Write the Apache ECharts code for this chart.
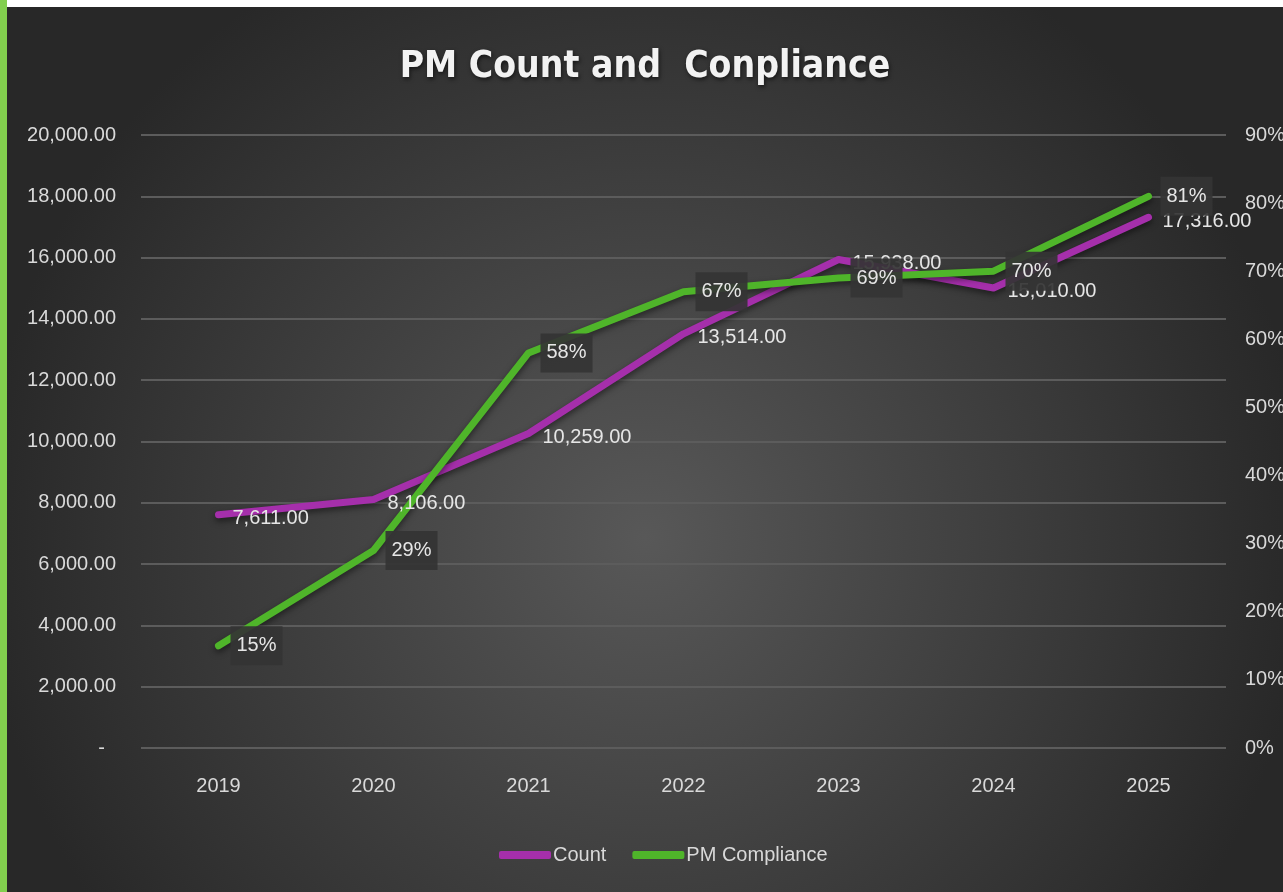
<!DOCTYPE html>
<html lang="en">

<head>
    <meta charset="UTF-8">
    <script type="text/javascript" src="https://cdn.jsdelivr.net/npm/echarts@6/dist/echarts.min.js"></script>
    <title>PM Count and Conpliance</title>
    <style type="text/css">
        body {
            margin: 0;
            background: #fff;
            width: 1283px;
            height: 892px;
            position: relative;
            overflow: hidden;
        }

        #bar {
            position: absolute;
            left: 0;
            top: 0;
            width: 7px;
            height: 892px;
            background: #82cf4e;
        }

        #main {
            position: absolute;
            left: 7px;
            top: 7px;
            width: 1276px;
            height: 885px;
        }
    </style>
</head>

<body>
<div id="bar"></div>
<div id="main"></div>
<script type="text/javascript">
    let years = ['2019', '2020', '2021', '2022', '2023', '2024', '2025'];
    let count = [7611, 8106, 10259, 13514, 15938, 15010, 17316];
    let compliance = [0.15, 0.29, 0.58, 0.67, 0.69, 0.70, 0.81];

    let chart = echarts.init(document.getElementById('main'));
    let font = '"Liberation Sans", Arial, sans-serif';

    function fmt_count(v) {
        if (v === 0) return '-  ';
        return v.toLocaleString('en-US', {minimumFractionDigits: 2, maximumFractionDigits: 2});
    }

    let option = {
        animation: false,
        backgroundColor: {
            type: 'radial',
            x: 0.5,
            y: 0.6,
            r: 0.75,
            colorStops: [
                {offset: 0, color: '#585858'},
                {offset: 1, color: '#282828'}
            ]
        },
        title: {
            text: 'PM Count and  Conpliance',
            left: 'center',
            top: 37,
            textStyle: {
                color: '#f2f2f2',
                fontFamily: '"DejaVu Sans Condensed", "DejaVu Sans", sans-serif',
                fontWeight: 'bold',
                fontSize: 37,
                textShadowColor: 'rgba(0,0,0,0.6)',
                textShadowBlur: 4,
                textShadowOffsetX: 1,
                textShadowOffsetY: 2
            }
        },
        legend: {
            left: 487,
            top: 833,
            icon: 'roundRect',
            itemWidth: 52,
            itemHeight: 8,
            itemGap: 26,
            textStyle: {
                color: '#d9d9d9',
                fontFamily: font,
                fontSize: 20,
                padding: [0, 0, 0, -3]
            },
            data: ['Count', 'PM Compliance']
        },
        grid: {
            left: 134,
            right: 57,
            top: 128,
            bottom: 144,
            outerBoundsMode: 'none',
            containLabel: false
        },
        xAxis: {
            type: 'category',
            data: years,
            axisLine: {show: false},
            axisTick: {show: false},
            axisLabel: {
                color: '#d9d9d9',
                fontFamily: font,
                fontSize: 20,
                margin: 28
            }
        },
        yAxis: [
            {
                type: 'value',
                min: 0,
                max: 20000,
                interval: 2000,
                axisLine: {show: false},
                axisTick: {show: false},
                splitLine: {lineStyle: {color: '#5c5c5c', width: 2}},
                axisLabel: {
                    color: '#d9d9d9',
                    fontFamily: font,
                    fontSize: 20,
                    margin: 25,
                    formatter: fmt_count
                }
            },
            {
                type: 'value',
                min: 0,
                max: 0.9,
                interval: 0.1,
                axisLine: {show: false},
                axisTick: {show: false},
                splitLine: {show: false},
                axisLabel: {
                    color: '#d9d9d9',
                    fontFamily: font,
                    fontSize: 20,
                    margin: 19,
                    formatter: function (v) {
                        return Math.round(v * 100) + '%';
                    }
                }
            }
        ],
        series: [
            {
                name: 'Count',
                type: 'line',
                yAxisIndex: 0,
                symbol: 'circle',
                symbolSize: 0,
                itemStyle: {color: '#a52fab'},
                lineStyle: {
                    width: 7,
                    color: '#a52fab',
                    cap: 'round',
                    join: 'round',
                    shadowColor: 'rgba(0,0,0,0.5)',
                    shadowBlur: 6,
                    shadowOffsetY: 3
                },
                label: {
                    show: true,
                    position: 'right',
                    distance: 14,
                    offset: [0, 4],
                    color: '#e6e6e6',
                    fontFamily: font,
                    fontSize: 20,
                    formatter: p => fmt_count(p.value)
                },
                data: count
            },
            {
                name: 'PM Compliance',
                type: 'line',
                yAxisIndex: 1,
                symbol: 'circle',
                symbolSize: 0,
                itemStyle: {color: '#4fb52a'},
                lineStyle: {
                    width: 7,
                    color: '#4fb52a',
                    cap: 'round',
                    join: 'round',
                    shadowColor: 'rgba(0,0,0,0.5)',
                    shadowBlur: 6,
                    shadowOffsetY: 3
                },
                label: {
                    show: true,
                    position: 'right',
                    distance: 12,
                    color: '#e6e6e6',
                    fontFamily: font,
                    fontSize: 20,
                    backgroundColor: 'rgba(52,52,52,0.92)',
                    padding: [10, 6, 9, 6],
                    formatter: p => Math.round(p.value * 100) + '%'
                },
                data: compliance
            }
        ]
    };
    chart.setOption(option);
</script>
</body>

</html>
